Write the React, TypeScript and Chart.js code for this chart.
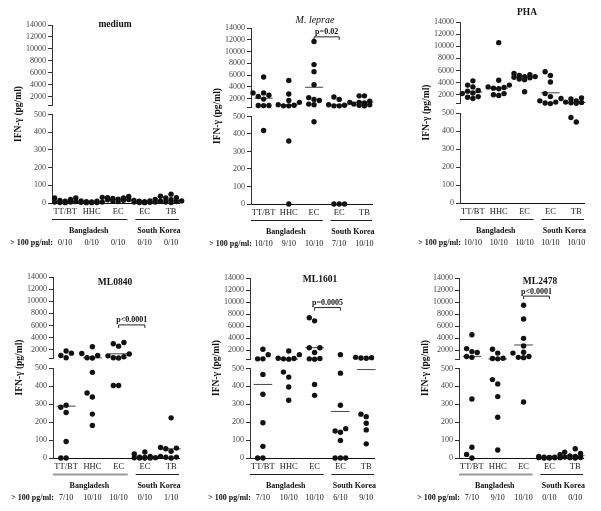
import React, { useEffect, useRef } from 'react';
import { Chart, registerables } from 'chart.js';

Chart.register(...registerables);
Chart.defaults.font.family = "'Liberation Serif', 'Times New Roman', serif";

// ---------------- DATA ----------------
const categories = ['TT/BT', 'HHC', 'EC', 'EC', 'TB'];
const regions = ['Bangladesh', 'South Korea'];
const thresholdLabel = '> 100 pg/ml:';
const yTitle = 'IFN-\u03b3 (pg/ml)';
const lowerTicks = [0, 100, 200, 300, 400, 500];
const upperTicks = [500, 2000, 4000, 6000, 8000, 10000, 12000, 14000];
const panelTitles = ['medium', 'M. leprae', 'PHA', 'ML0840', 'ML1601', 'ML2478'];

const mediumValues = [
  [28, 28, 20, 15, 10, 8, 5, 5, 3, 2],
  [32, 12, 10, 8, 6, 5, 4, 3, 2, 2],
  [37, 30, 28, 26, 22, 20, 18, 15, 12, 8],
  [20, 15, 12, 10, 8, 6, 5, 4, 3, 2],
  [50, 38, 30, 28, 18, 12, 10, 8, 5, 3],
];
const mediumMedians = [9, 6, 21, 7, 15];
const mediumFractions = ['0/10', '0/10', '0/10', '0/10', '0/10'];

const lepraeValues = [
  [5700, 3000, 3000, 2600, 2400, 1950, 870, 870, 850, 420],
  [5100, 2800, 1700, 1400, 1000, 900, 800, 800, 360, 0],
  [11700, 7800, 6600, 4400, 2200, 1900, 1700, 1100, 1000, 470],
  [2300, 1900, 1400, 1000, 900, 800, 800, 0, 0, 0],
  [2500, 2500, 1600, 1400, 1300, 1200, 1100, 1000, 900, 800],
];
const lepraeMedians = [2100, 980, 3950, 980, 1430];
const lepraeFractions = ['10/10', '9/10', '10/10', '7/10', '10/10'];

const phaValues = [
  [4300, 3600, 3300, 2700, 2600, 2300, 2200, 1700, 1600, 1400],
  [10600, 4400, 3600, 3300, 3200, 3100, 3000, 2200, 2000, 1900],
  [5500, 5300, 5200, 5000, 5000, 4900, 4800, 4600, 4500, 2500],
  [5800, 5200, 4100, 2200, 1700, 1400, 1000, 800, 650, 550],
  [1500, 1300, 1000, 900, 800, 750, 700, 600, 475, 450],
];
const phaMedians = [2450, 3100, 4950, 2330, 740];
const phaFractions = ['10/10', '10/10', '10/10', '10/10', '10/10'];

const ml0840Values = [
  [1800, 1450, 1050, 700, 293, 282, 253, 92, 0, 0],
  [2500, 1400, 1050, 700, 650, 476, 361, 339, 244, 181],
  [3200, 3000, 2600, 1300, 1000, 850, 700, 650, 403, 403],
  [33, 22, 8, 5, 3, 2, 1, 0, 0, 0],
  [223, 66, 58, 55, 51, 37, 9, 5, 4, 0],
];
const ml0840Medians = [288, 680, 1340, 2, 51];
const ml0840Fractions = ['7/10', '10/10', '10/10', '0/10', '1/10'];

const ml1601Values = [
  [2200, 1300, 600, 600, 467, 356, 197, 65, 0, 0],
  [1900, 1300, 700, 650, 600, 550, 480, 452, 397, 323],
  [7400, 6900, 2450, 2450, 1650, 650, 600, 550, 411, 350],
  [1300, 474, 295, 164, 151, 144, 98, 0, 0, 0],
  [900, 850, 800, 750, 700, 245, 231, 194, 157, 79],
];
const ml1601Medians = [411, 550, 2450, 260, 494];
const ml1601Fractions = ['7/10', '10/10', '10/10', '6/10', '9/10'];

const ml2478Values = [
  [4600, 2300, 1800, 1650, 1000, 850, 330, 60, 20, 0],
  [2200, 1550, 700, 650, 600, 438, 414, 343, 228, 45],
  [9500, 7200, 4000, 2750, 1700, 1550, 1000, 850, 800, 313],
  [18, 8, 5, 4, 3, 2, 2, 1, 0, 0],
  [52, 32, 26, 12, 8, 6, 5, 3, 2, 0],
];
const ml2478Medians = [1010, 575, 2900, 2, 13];
const ml2478Fractions = ['7/10', '9/10', '10/10', '0/10', '0/10'];

const bracketValues = [null, 12500, null, 6100, 9100, 11000];
const bracketLabels = ['', 'p=0.02', '', 'p<0.0001', 'p=0.0005', 'p<0.0001'];

const panelValues = [mediumValues, lepraeValues, phaValues, ml0840Values, ml1601Values, ml2478Values];
const panelMedians = [mediumMedians, lepraeMedians, phaMedians, ml0840Medians, ml1601Medians, ml2478Medians];
const panelFractions = [mediumFractions, lepraeFractions, phaFractions, ml0840Fractions, ml1601Fractions, ml2478Fractions];

// ---------------- LAYOUT ----------------
const BREAK = 500;
const X_MIN = -0.5;
const X_MAX = 4.3;
const W_HIGH = 81;
const W_GAP = 9;
const W_LOW = 89;
const XH = 14;

type PanelLayout = {
  ox: number; oy: number; w: number; h: number;
  axisX: number; topY: number; zeroY: number; rightX: number;
  titleX: number; titleY: number; titleFont: string; bangColor: string; bangWidth: number;
};

const panelLayouts: PanelLayout[] = [
  { ox: 0, oy: 0, w: 200, h: 255, axisX: 52, topY: 25, zeroY: 203, rightX: 179, titleX: 115, titleY: 25, titleFont: 'bold 9.5px', bangColor: '#222', bangWidth: 1 },
  { ox: 200, oy: 0, w: 200, h: 255, axisX: 251, topY: 28, zeroY: 204, rightX: 372, titleX: 315, titleY: 20, titleFont: 'italic 10px', bangColor: '#222', bangWidth: 1 },
  { ox: 400, oy: 0, w: 201, h: 255, axisX: 460, topY: 22, zeroY: 203, rightX: 584, titleX: 527, titleY: 13, titleFont: 'bold 9.5px', bangColor: '#222', bangWidth: 1 },
  { ox: 0, oy: 255, w: 200, h: 256, axisX: 53, topY: 277, zeroY: 458, rightX: 179, titleX: 115, titleY: 283, titleFont: 'bold 9.5px', bangColor: '#999', bangWidth: 2 },
  { ox: 200, oy: 255, w: 200, h: 256, axisX: 250, topY: 278, zeroY: 458, rightX: 374, titleX: 320, titleY: 280, titleFont: 'bold 9.5px', bangColor: '#222', bangWidth: 1 },
  { ox: 400, oy: 255, w: 201, h: 256, axisX: 459, topY: 278, zeroY: 458, rightX: 583, titleX: 540, titleY: 282, titleFont: 'bold 9.5px', bangColor: '#999', bangWidth: 2 },
];

const FONT = "'Liberation Serif', 'Times New Roman', serif";

// approximate vertical pixel position for the swarm layout only
function vPix(v: number): number {
  return v <= BREAK ? (v / BREAK) * W_LOW : W_LOW + W_GAP + ((v - BREAK) / (14000 - BREAK)) * W_HIGH;
}

function swarmOffsets(values: number[], pxPerUnit: number): number[] {
  const order = values.map((_, i) => i).sort((a, b) => values[a] - values[b]);
  const placed: { x: number; y: number }[] = [];
  const res = new Array(values.length).fill(0);
  const d = 5.3;
  for (const i of order) {
    const y = vPix(values[i]);
    let best = 0;
    let bestScore = Infinity;
    for (const k of [0, -1, 1, -2, 2]) {
      const x = k * d;
      let ov = 0;
      for (const p of placed) {
        const dist = Math.hypot(p.x - x, p.y - y);
        if (dist < d) ov += d - dist;
      }
      const score = ov * 5 + Math.abs(k) * 0.3;
      if (score < bestScore) { bestScore = score; best = x; }
    }
    placed.push({ x: best, y });
    res[i] = best / pxPerUnit;
  }
  return res;
}

function Panel({ idx }: { idx: number }) {
  const ref = useRef<HTMLCanvasElement>(null);
  const L = panelLayouts[idx];

  useEffect(() => {
    const values = panelValues[idx];
    const medians = panelMedians[idx];
    const fractions = panelFractions[idx];
    const pxPerUnit = (L.rightX - L.axisX) / (X_MAX - X_MIN);

    const hi: { x: number; y: number }[] = [];
    const lo: { x: number; y: number }[] = [];
    const medHi: { x: number; y: number | null }[] = [];
    const medLo: { x: number; y: number | null }[] = [];
    values.forEach((grp, g) => {
      const offs = swarmOffsets(grp, pxPerUnit);
      grp.forEach((v, i) => {
        (v > BREAK ? hi : lo).push({ x: g + offs[i], y: v });
      });
      const m = medians[g];
      const target = m > BREAK ? medHi : medLo;
      target.push({ x: g - 0.36, y: m }, { x: g + 0.36, y: m }, { x: g + 0.5, y: null });
    });

    const pointStyle = {
      pointRadius: 2.7,
      pointHoverRadius: 2.7,
      pointBackgroundColor: '#111',
      pointBorderWidth: 0,
      backgroundColor: '#111',
      borderWidth: 0,
      clip: false as any,
    };

    const datasets: any[] = [
      { type: 'scatter', data: hi, yAxisID: 'yHigh', xAxisID: 'x', ...pointStyle },
      { type: 'scatter', data: lo, yAxisID: 'yLow', xAxisID: 'x', ...pointStyle },
      { type: 'line', data: medHi, yAxisID: 'yHigh', xAxisID: 'x', showLine: true, spanGaps: false, borderColor: '#444', borderWidth: 1, pointRadius: 0, clip: false },
      { type: 'line', data: medLo, yAxisID: 'yLow', xAxisID: 'x', showLine: true, spanGaps: false, borderColor: '#444', borderWidth: 1, pointRadius: 0, clip: false },
    ];

    const yWidth = L.axisX - L.ox;
    const tickFont = { family: FONT, size: 8 };

    const decor = {
      id: 'decor' + idx,
      afterDraw(chart: any) {
        const ctx = chart.ctx as CanvasRenderingContext2D;
        const area = chart.chartArea;
        const xs = chart.scales.x;
        const yh = chart.scales.yHigh;
        ctx.save();
        ctx.fillStyle = '#111';
        ctx.textAlign = 'center';
        ctx.textBaseline = 'middle';
        // title
        ctx.font = `${L.titleFont} ${FONT}`;
        ctx.fillText(panelTitles[idx], L.titleX - L.ox, L.titleY - L.oy);
        // y axis title
        ctx.save();
        ctx.font = `bold 9.5px ${FONT}`;
        ctx.translate(area.left - 33, (area.top + area.bottom) / 2);
        ctx.rotate(-Math.PI / 2);
        ctx.fillText(yTitle, 0, 0);
        ctx.restore();
        // region underlines
        const ly = area.bottom + 16.5;
        ctx.strokeStyle = L.bangColor;
        ctx.lineWidth = L.bangWidth;
        ctx.beginPath();
        ctx.moveTo(xs.getPixelForValue(-0.5), ly);
        ctx.lineTo(xs.getPixelForValue(2.35), ly);
        ctx.stroke();
        ctx.strokeStyle = '#222';
        ctx.lineWidth = 1;
        ctx.beginPath();
        ctx.moveTo(xs.getPixelForValue(2.65), ly);
        ctx.lineTo(xs.getPixelForValue(4.3), ly);
        ctx.stroke();
        // region labels
        ctx.font = `bold 8px ${FONT}`;
        ctx.fillText(regions[0], xs.getPixelForValue(1) - 3, area.bottom + 28);
        ctx.fillText(regions[1], (xs.getPixelForValue(3) + xs.getPixelForValue(4)) / 2 + 1, area.bottom + 28);
        // threshold row
        const ry = area.bottom + 40;
        ctx.textAlign = 'right';
        ctx.fillText(thresholdLabel, area.left + 1, ry);
        ctx.textAlign = 'center';
        ctx.font = `8px ${FONT}`;
        fractions.forEach((f, g) => ctx.fillText(f, xs.getPixelForValue(g), ry));
        // bracket
        const bv = bracketValues[idx];
        if (bv !== null) {
          const by = yh.getPixelForValue(bv);
          const x1 = xs.getPixelForValue(2);
          const x2 = xs.getPixelForValue(3);
          ctx.strokeStyle = '#222';
          ctx.lineWidth = 1;
          ctx.beginPath();
          ctx.moveTo(x1, by + 3);
          ctx.lineTo(x1, by);
          ctx.lineTo(x2, by);
          ctx.lineTo(x2, by + 3);
          ctx.stroke();
          ctx.font = `bold 8px ${FONT}`;
          ctx.textBaseline = 'alphabetic';
          ctx.fillText(bracketLabels[idx], (x1 + x2) / 2, by - 2.5);
        }
        ctx.restore();
      },
    };

    const yCommon = (ticks: number[], weight: number, stackWeight: number, min: number, max: number) => ({
      type: 'linear',
      position: 'left',
      stack: 'y',
      stackWeight,
      weight,
      min,
      max,
      afterBuildTicks: (s: any) => { s.ticks = ticks.map((v) => ({ value: v })); },
      afterFit: (s: any) => { s.width = yWidth; },
      grid: { drawOnChartArea: false, tickLength: 4, color: '#333', lineWidth: 1 },
      border: { color: '#333', width: 1 },
      ticks: {
        font: tickFont,
        color: '#444',
        padding: 2,
        autoSkip: false,
        callback: (v: any) => (ticks === upperTicks && v === BREAK ? '' : String(v)),
      },
    });

    const chart = new Chart(ref.current as HTMLCanvasElement, {
      type: 'scatter',
      data: { datasets },
      options: {
        animation: false,
        responsive: false,
        events: [],
        layout: {
          padding: {
            left: 0,
            top: L.topY - L.oy,
            right: L.ox + L.w - L.rightX,
            bottom: L.oy + L.h - L.zeroY - XH,
          },
        },
        plugins: { legend: { display: false }, tooltip: { enabled: false }, title: { display: false } },
        scales: {
          x: {
            type: 'linear',
            position: 'bottom',
            min: X_MIN,
            max: X_MAX,
            afterBuildTicks: (s: any) => { s.ticks = categories.map((_, i) => ({ value: i })); },
            afterFit: (s: any) => { s.height = XH; },
            grid: { display: false, drawTicks: false },
            border: { color: '#111', width: 1 },
            ticks: {
              font: { family: FONT, size: 8.5 },
              color: '#222',
              padding: 4,
              autoSkip: false,
              maxRotation: 0,
              callback: (_v: any, i: number) => categories[i],
            },
          },
          yHigh: yCommon(upperTicks, 3, W_HIGH, BREAK, 14000),
          yGap: { type: 'linear', position: 'left', stack: 'y', stackWeight: W_GAP, weight: 2, display: false, min: 0, max: 1 },
          yLow: yCommon(lowerTicks, 1, W_LOW, 0, BREAK),
        } as any,
      },
      plugins: [decor],
    } as any);
    return () => chart.destroy();
  }, [idx]);

  return (
    <canvas
      ref={ref}
      width={L.w}
      height={L.h}
      style={{ position: 'absolute', left: L.ox, top: L.oy, width: L.w, height: L.h }}
    />
  );
}

export default function App() {
  return (
    <div style={{ position: 'absolute', left: 0, top: 0, width: 601, height: 511, background: '#fff', overflow: 'hidden' }}>
      {panelTitles.map((_, i) => (
        <Panel key={i} idx={i} />
      ))}
    </div>
  );
}
